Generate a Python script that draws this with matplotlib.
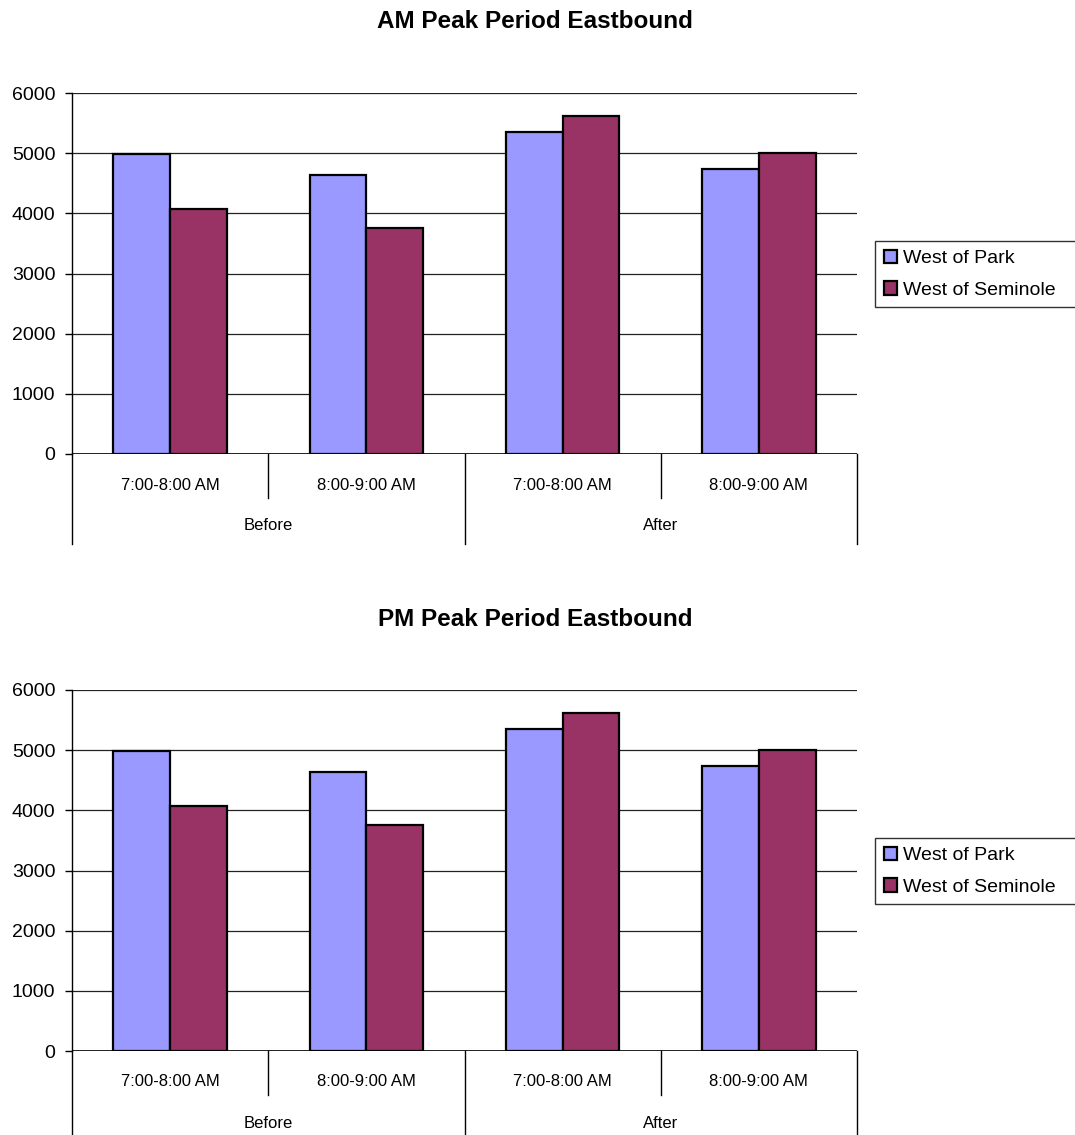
import matplotlib.pyplot as plt
from matplotlib import font_manager
from matplotlib.lines import Line2D
from matplotlib.transforms import blended_transform_factory

periods = ["Before", "After"]
hours = ["7:00-8:00 AM", "8:00-9:00 AM"]
series_names = ["West of Park", "West of Seminole"]
west_of_park = [4980, 4640, 5360, 4730]
west_of_seminole = [4070, 3760, 5620, 5010]
titles = ["AM Peak Period Eastbound", "PM Peak Period Eastbound"]

colors = ["#9999FF", "#993366"]
W, H = 1075, 1135

names = {f.name for f in font_manager.fontManager.ttflist}
base_font = "Liberation Sans" if "Liberation Sans" in names else "DejaVu Sans"
plt.rcParams["font.family"] = [base_font, "DejaVu Sans"]

fig = plt.figure(figsize=(W / 100, H / 100), dpi=100)

# pixel layout of each chart: (title y, plot top, plot bottom, legend top)
layouts = [(22, 93, 454, 241), (619, 690, 1051, 838)]
x0, x1 = 72, 857
bw = 0.289


def draw_chart(title, title_y, top, bottom, leg_top):
    ax = fig.add_axes([x0 / W, 1 - bottom / H, (x1 - x0) / W, (bottom - top) / H])
    ah = bottom - top
    xs = list(range(len(west_of_park)))
    ax.bar([x - bw / 2 for x in xs], west_of_park, bw, color=colors[0],
           edgecolor="black", linewidth=1.6, label=series_names[0], zorder=3)
    ax.bar([x + bw / 2 for x in xs], west_of_seminole, bw, color=colors[1],
           edgecolor="black", linewidth=1.6, label=series_names[1], zorder=3)

    ax.set_xlim(-0.5, len(xs) - 0.5)
    ax.set_ylim(0, 6000)
    ax.set_yticks(range(0, 6001, 1000))
    ax.tick_params(axis="y", length=5, width=1, labelsize=14, pad=7, color="black")
    ax.set_xticks([])
    ax.grid(axis="y", color="#222222", linewidth=0.9, zorder=0)
    ax.set_axisbelow(True)
    for s in ("top", "right", "bottom"):
        ax.spines[s].set_visible(False)
    ax.spines["left"].set_linewidth(1)
    ax.axhline(0, color="black", linewidth=1.2, zorder=4)

    # two-level category axis drawn under the plot
    tr = blended_transform_factory(ax.transData, ax.transAxes)
    fy = lambda px: -px / ah
    for xb in (-0.5, 1.5, 3.5):
        ax.add_line(Line2D([xb, xb], [0, fy(90)], transform=tr, color="black",
                           linewidth=1, clip_on=False))
    for xb in (0.5, 2.5):
        ax.add_line(Line2D([xb, xb], [0, fy(44)], transform=tr, color="black",
                           linewidth=1, clip_on=False))
    for i, x in enumerate(xs):
        ax.text(x, fy(31), hours[i % len(hours)], transform=tr, ha="center",
                va="center", fontsize=12)
    for j, p in enumerate(periods):
        ax.text(j * 2 + 0.5, fy(72), p, transform=tr, ha="center", va="center",
                fontsize=12)

    fig.text(535 / W, 1 - title_y / H, title, ha="center", va="center",
             fontsize=17.5, fontweight="bold")

    leg = fig.legend(*ax.get_legend_handles_labels(), loc="upper left",
                     bbox_to_anchor=(875 / W, 1 - (leg_top + 65) / H, 215 / W, 65 / H),
                     mode="expand", fontsize=14,
                     frameon=True, fancybox=False, edgecolor="black",
                     handlelength=0.7, handleheight=0.7, handletextpad=0.3,
                     borderpad=0.45, labelspacing=0.7, borderaxespad=0)
    leg.get_frame().set_linewidth(1)


for t, (ty, top, bottom, lt) in zip(titles, layouts):
    draw_chart(t, ty, top, bottom, lt)

fig.savefig("out.png", dpi=100)
